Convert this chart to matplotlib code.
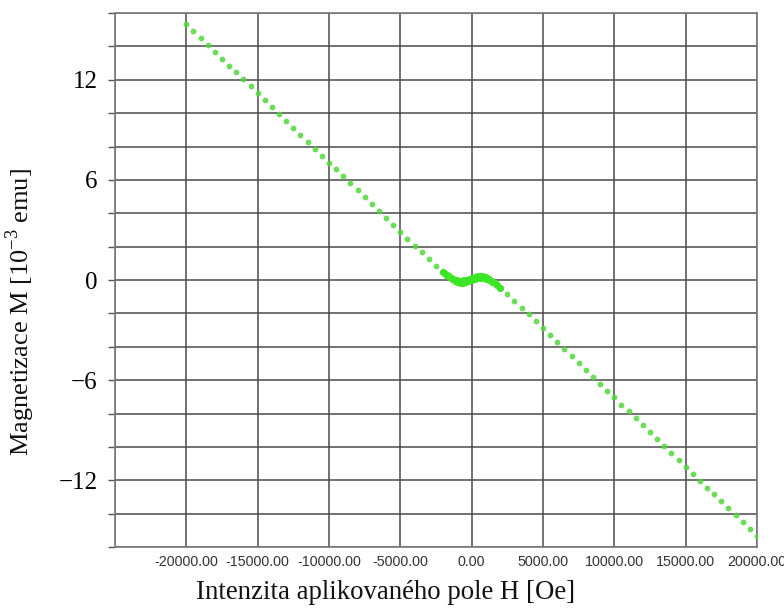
import matplotlib
matplotlib.use('Agg')
import matplotlib.pyplot as plt
from matplotlib.ticker import MultipleLocator, FuncFormatter

# measured loop: high-field points (500 Oe step)
h_low = [-20000, -19500, -19000, -18500, -18000, -17500, -17000, -16500, -16000, -15500,
         -15000, -14500, -14000, -13500, -13000, -12500, -12000, -11500, -11000, -10500,
         -10000, -9500, -9000, -8500, -8000, -7500, -7000, -6500, -6000, -5500,
         -5000, -4500, -4000, -3500, -3000, -2500]
m_low = [15.34, 14.93, 14.51, 14.10, 13.68, 13.27, 12.85, 12.44, 12.02, 11.61,
         11.19, 10.78, 10.36, 9.95, 9.53, 9.12, 8.70, 8.29, 7.87, 7.46,
         7.04, 6.63, 6.21, 5.80, 5.38, 4.97, 4.55, 4.14, 3.72, 3.31,
         2.89, 2.48, 2.06, 1.65, 1.23, 0.84]
h_high = [2500, 3000, 3500, 4000, 4500, 5000, 5500, 6000, 6500, 7000,
          7500, 8000, 8500, 9000, 9500, 10000, 10500, 11000, 11500, 12000,
          12500, 13000, 13500, 14000, 14500, 15000, 15500, 16000, 16500, 17000,
          17500, 18000, 18500, 19000, 19500, 20000]
m_high = [-0.84, -1.23, -1.65, -2.06, -2.48, -2.89, -3.31, -3.72, -4.14, -4.55,
          -4.97, -5.38, -5.80, -6.21, -6.63, -7.04, -7.46, -7.87, -8.29, -8.70,
          -9.12, -9.53, -9.95, -10.36, -10.78, -11.19, -11.61, -12.02, -12.44, -12.85,
          -13.27, -13.68, -14.10, -14.51, -14.93, -15.36]

# low-field part, both branches (200 Oe step)
h_core = [-2000, -1800, -1600, -1400, -1200, -1000, -800, -600, -400, -200, 0,
          200, 400, 600, 800, 1000, 1200, 1400, 1600, 1800, 2000]
m_down = [0.46, 0.34, 0.22, 0.12, 0.03, -0.02, -0.05, -0.01, 0.02, 0.08, 0.13,
          0.20, 0.26, 0.27, 0.23, 0.17, 0.07, -0.03, -0.17, -0.30, -0.46]
m_up = [0.46, 0.31, 0.19, 0.06, -0.03, -0.12, -0.15, -0.15, -0.12, -0.06, -0.01,
        0.06, 0.12, 0.13, 0.13, 0.07, 0.01, -0.09, -0.20, -0.32, -0.46]

x_ticks = [-20000, -15000, -10000, -5000, 0, 5000, 10000, 15000, 20000]
y_labels = [-12, -6, 0, 6, 12]

plt.rcParams['mathtext.fontset'] = 'custom'
plt.rcParams['mathtext.rm'] = 'Liberation Serif'

fig = plt.figure(figsize=(7.84, 6.08), dpi=100)
ax = fig.add_axes([0.1467, 0.1003, 0.8189, 0.8783])

dot = '#52d63c'
ax.plot(h_low, m_low, 'o', ms=4.2, color=dot, mec='none', alpha=0.85, zorder=3)
ax.plot(h_high, m_high, 'o', ms=4.2, color=dot, mec='none', alpha=0.85, zorder=3)
ax.plot(h_core, m_down, 'o', ms=5, color='#3de624', mec='none', zorder=3)
ax.plot(h_core, m_up, 'o', ms=5, color='#3de624', mec='none', zorder=3)

ax.set_xlim(-25000, 20000)
ax.set_ylim(-16, 16)
ax.xaxis.set_major_locator(MultipleLocator(5000))
ax.yaxis.set_major_locator(MultipleLocator(2))
ax.grid(True, color='#4a4a4a', lw=1.1)
ax.set_axisbelow(True)
for s in ax.spines.values():
    s.set_color('#7a7a7a')
    s.set_linewidth(1.2)

ax.xaxis.set_major_formatter(FuncFormatter(
    lambda v, p: ('%.2f' % v) if v in x_ticks else ''))
ax.yaxis.set_major_formatter(FuncFormatter(
    lambda v, p: ('%d' % v).replace('-', '\u2212') if int(round(v)) in y_labels else ''))

ax.tick_params(axis='x', length=0, pad=6, labelsize=10.3, labelcolor='#333333')
ax.tick_params(axis='y', length=5, width=1, color='#555555', pad=7.5, labelsize=18)
for t in ax.get_xticklabels():
    t.set_family('Liberation Sans')
for t in ax.get_yticklabels():
    t.set_family('Liberation Serif')

ax.set_xlabel('Intenzita aplikovaného pole H [Oe]', family='Liberation Serif',
              fontsize=19.3, color='#111111')
ax.xaxis.set_label_coords(0.422, -0.062)
ax.set_ylabel('Magnetizace M [10$^{\\mathregular{\u22123}}$ emu]', family='Liberation Serif',
              fontsize=19, color='#111111')
ax.yaxis.set_label_coords(-0.122, 0.44)

fig.savefig('out.png', dpi=100)
